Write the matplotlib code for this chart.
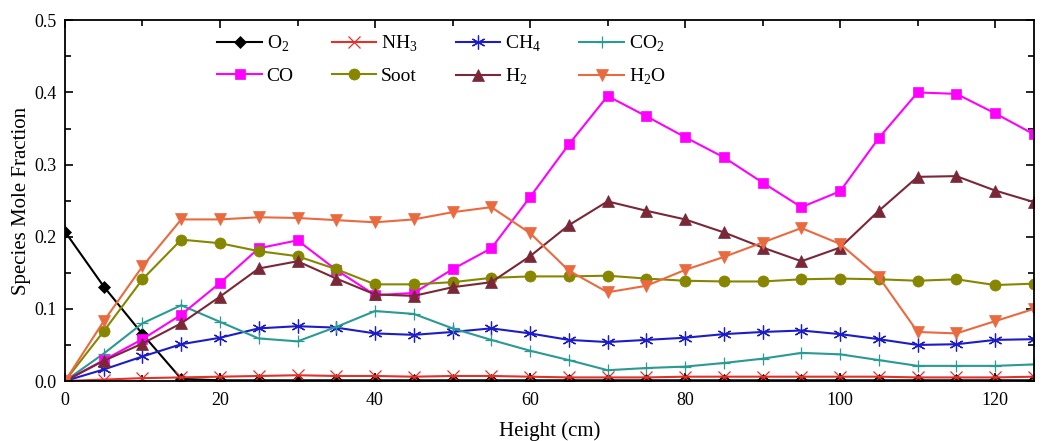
import numpy as np
import matplotlib
matplotlib.use("Agg")
import matplotlib.pyplot as plt
from matplotlib.ticker import MultipleLocator

plt.rcParams['font.family'] = ['Liberation Serif', 'DejaVu Serif']
plt.rcParams['mathtext.fontset'] = 'custom'
plt.rcParams['mathtext.rm'] = 'Liberation Serif'

height = np.arange(0, 130, 5)

o2 = [0.207, 0.131, 0.065, 0.003, 0.001, 0.001, 0.001, 0.001, 0.001, 0.001, 0.001, 0.001, 0.001,
      0.001, 0.001, 0.001, 0.001, 0.001, 0.001, 0.001, 0.001, 0.001, 0.001, 0.001, 0.001, 0.001]
nh3 = [0.0, 0.002, 0.004, 0.005, 0.006, 0.007, 0.008, 0.007, 0.007, 0.006, 0.007, 0.007, 0.006,
       0.005, 0.005, 0.005, 0.006, 0.006, 0.006, 0.006, 0.006, 0.006, 0.005, 0.005, 0.005, 0.006]
ch4 = [0.0, 0.016, 0.034, 0.051, 0.060, 0.073, 0.076, 0.074, 0.066, 0.064, 0.068, 0.073, 0.066,
       0.057, 0.054, 0.057, 0.060, 0.065, 0.068, 0.070, 0.065, 0.058, 0.050, 0.051, 0.057, 0.058]
co2 = [0.0, 0.038, 0.080, 0.105, 0.082, 0.059, 0.055, 0.075, 0.097, 0.093, 0.073, 0.057, 0.042,
       0.029, 0.015, 0.018, 0.020, 0.025, 0.031, 0.039, 0.037, 0.029, 0.021, 0.021, 0.021, 0.023]
co = [0.0, 0.029, 0.058, 0.092, 0.136, 0.184, 0.195, 0.154, 0.119, 0.122, 0.155, 0.184, 0.255,
      0.328, 0.395, 0.367, 0.338, 0.310, 0.275, 0.241, 0.263, 0.337, 0.400, 0.398, 0.371, 0.342]
soot = [0.0, 0.069, 0.141, 0.196, 0.191, 0.180, 0.173, 0.155, 0.134, 0.134, 0.137, 0.143, 0.145,
        0.145, 0.146, 0.142, 0.139, 0.138, 0.138, 0.141, 0.142, 0.141, 0.139, 0.141, 0.133, 0.135]
h2 = [0.0, 0.028, 0.052, 0.080, 0.117, 0.156, 0.166, 0.142, 0.120, 0.118, 0.130, 0.137, 0.173,
      0.216, 0.249, 0.236, 0.224, 0.206, 0.185, 0.166, 0.185, 0.236, 0.283, 0.284, 0.264, 0.248]
h2o = [0.0, 0.083, 0.159, 0.224, 0.224, 0.227, 0.226, 0.223, 0.220, 0.224, 0.234, 0.241, 0.205,
       0.153, 0.123, 0.132, 0.154, 0.172, 0.192, 0.212, 0.190, 0.144, 0.068, 0.066, 0.083, 0.100]

series = [
    ("O$_2$", o2, "black", "D", 6),
    ("NH$_3$", nh3, "#e2302a", "x", 8),
    ("CH$_4$", ch4, "#1c1cc8", (6, 2, 0), 10),
    ("CO$_2$", co2, "#2a9a92", "+", 9),
    ("CO", co, "#ff00ff", "s", 7),
    ("Soot", soot, "#868600", "o", 8),
    ("H$_2$", h2, "#7a2838", "^", 8),
    ("H$_2$O", h2o, "#ea6a40", "v", 8),
]

fig = plt.figure(figsize=(10.43, 4.41), dpi=100)
ax = fig.add_axes([0.0623, 0.136, 0.929, 0.818])

lines = {}
for name, vals, col, mk, ms in series:
    thin = mk in ("x", "+", (6, 2, 0))
    ln, = ax.plot(height, vals, color=col, marker=mk, markersize=ms, linewidth=1.5,
                  markeredgewidth=0.9 if thin else 0.5, label=name)
    lines[name] = ln

ax.set_xlim(0, 125)
ax.set_ylim(0, 0.5)
ax.xaxis.set_major_locator(MultipleLocator(20))
ax.xaxis.set_minor_locator(MultipleLocator(10))
ax.yaxis.set_major_locator(MultipleLocator(0.1))
ax.yaxis.set_minor_locator(MultipleLocator(0.05))
ax.yaxis.set_major_formatter(matplotlib.ticker.FormatStrFormatter('%.1f'))
ax.tick_params(which='both', direction='in', top=True, right=True, labelsize=13)
ax.tick_params(axis='x', pad=8)
ax.tick_params(axis='y', pad=6)
ax.tick_params(which='major', length=6, width=1.2)
ax.tick_params(which='minor', length=4, width=1.2)
for sp in ax.spines.values():
    sp.set_linewidth(1.3)

ax.set_xlabel("Height (cm)", fontsize=15, labelpad=9)
ax.set_ylabel("Species Mole Fraction", fontsize=15, labelpad=2)

order = ["O$_2$", "CO", "NH$_3$", "Soot", "CH$_4$", "H$_2$", "CO$_2$", "H$_2$O"]
ax.legend([lines[k] for k in order], order, ncol=4, frameon=False, fontsize=14,
          loc='upper left', bbox_to_anchor=(0.139, 1.01), handlelength=2.3,
          columnspacing=1.95, handletextpad=0.25, labelspacing=0.65)

fig.savefig("out.png", dpi=100)
